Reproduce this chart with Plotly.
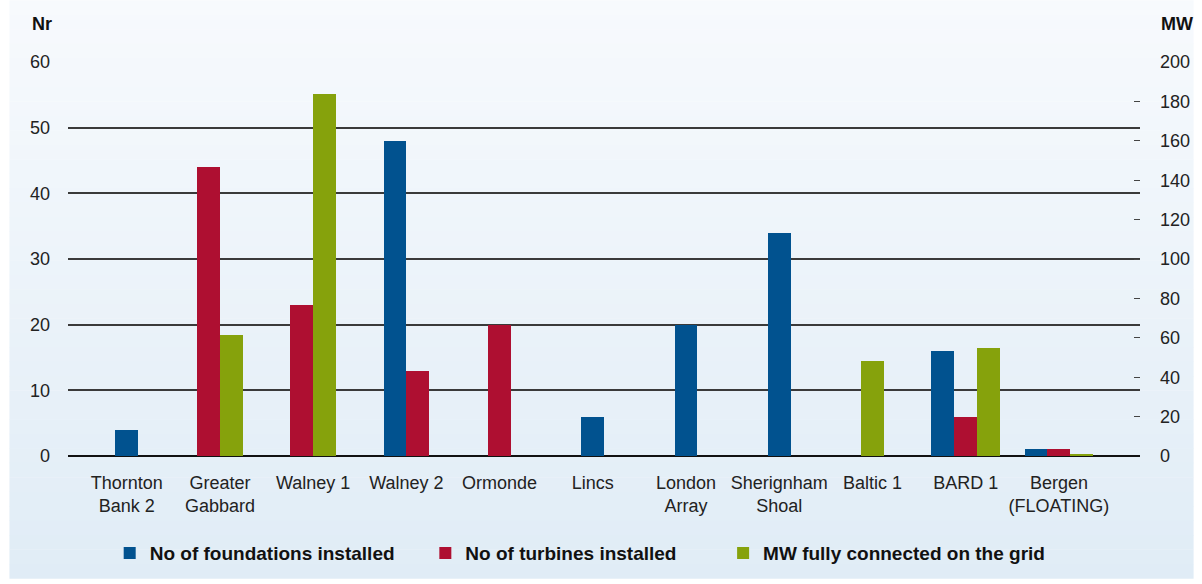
import plotly.graph_objects as go

# ---- data ----
categories = ["Thornton<br>Bank 2", "Greater<br>Gabbard", "Walney 1", "Walney 2", "Ormonde",
              "Lincs", "London<br>Array", "Sherignham<br>Shoal", "Baltic 1", "BARD 1",
              "Bergen<br>(FLOATING)"]
foundations = [4, 0, 0, 48, 0, 6, 20, 34, 0, 16, 1]
turbines = [0, 44, 23, 13, 20, 0, 0, 0, 0, 6, 1]
mw_connected = [0, 61.2, 183.6, 0, 0, 0, 0, 0, 48.3, 55, 1.2]
series_names = ["No of foundations installed", "No of turbines installed",
                "MW fully connected on the grid"]
left_ticks = [0, 10, 20, 30, 40, 50, 60]
right_ticks = [0, 20, 40, 60, 80, 100, 120, 140, 160, 180, 200]

# ---- style ----
colors = ["#01528f", "#ae0f31", "#86a20c"]
W = 0.245
FONT = "Liberation Sans, Arial, sans-serif"
FIG_W, FIG_H = 1202, 584
L, R, T, B = 68, 54, 62, 124
legend_px = [130, 448, 748]   # legend swatch centres (px)
legend_keys = ["legend", "legend2", "legend3"]

series = [foundations, turbines, mw_connected]
n_cat = len(categories)
offsets = [[0.0] * n_cat for _ in series]
for i in range(n_cat):
    present = [k for k in range(len(series)) if series[k][i] > 0]
    n = len(present)
    for j, k in enumerate(present):
        offsets[k][i] = -n * W / 2 + j * W

fig = go.Figure()
for k, vals in enumerate(series):
    fig.add_trace(go.Bar(
        x=categories, y=vals, name=series_names[k],
        marker=dict(color=colors[k], line=dict(width=0)),
        width=W, offset=offsets[k],
        yaxis="y2" if k == 2 else "y",
        legend=legend_keys[k], showlegend=True,
    ))

pw = FIG_W - L - R
ph = FIG_H - T - B

# background gradient panel
shapes = []
top_c = (247, 250, 253)
bot_c = (224, 236, 246)
nb = 40
for b in range(nb):
    py0 = FIG_H * b / nb
    py1 = FIG_H * (b + 1) / nb
    t = (b + 0.5) / nb
    c = tuple(round(top_c[m] + (bot_c[m] - top_c[m]) * t) for m in range(3))
    shapes.append(dict(
        type="rect", xref="paper", yref="paper", layer="below",
        x0=(9 - L) / pw, x1=(FIG_W - L) / pw,
        y0=(FIG_H - B - py1) / ph, y1=(FIG_H - B - py0) / ph + 0.001,
        fillcolor="rgb(%d,%d,%d)" % c, line=dict(width=0),
    ))

legends = {}
for k, key in enumerate(legend_keys):
    legends[key] = dict(
        orientation="h", x=(legend_px[k] - 20 - L) / pw, xanchor="left",
        y=(FIG_H - B - 539) / ph, yanchor="top",
        font=dict(size=19, color="#111", family=FONT, weight="bold"),
        bgcolor="rgba(0,0,0,0)", itemclick=False, itemdoubleclick=False,
        visible=True,
    )

fig.update_layout(
    width=FIG_W, height=FIG_H,
    margin=dict(l=L, r=R, t=T, b=B, pad=0),
    paper_bgcolor="white", plot_bgcolor="rgba(0,0,0,0)",
    barmode="overlay", bargap=0, showlegend=True,
    font=dict(family=FONT, size=17, color="#222"),
    shapes=shapes,
    xaxis=dict(
        type="category", range=[-0.63, 10.87], showgrid=False, zeroline=False,
        showline=False, ticks="", ticklabelstandoff=14,
        tickfont=dict(size=18, color="#222"), fixedrange=True,
    ),
    yaxis=dict(
        range=[0, 60], tickvals=left_ticks, showgrid=True, gridcolor="#3a3a3a",
        gridwidth=1.6, zeroline=True, zerolinecolor="#111", zerolinewidth=1.6,
        showline=False, ticks="", ticklabelstandoff=17,
        tickfont=dict(size=18, color="#222"),
    ),
    yaxis2=dict(
        range=[0, 200], tickvals=right_ticks, overlaying="y", side="right",
        showgrid=False, zeroline=False, showline=False,
        ticks="inside", ticklen=6, tickwidth=1.4, tickcolor="#444",
        ticklabelstandoff=19, tickfont=dict(size=18, color="#222"),
    ),
    annotations=[
        dict(text="<b>Nr</b>", xref="paper", yref="paper",
             x=(42 - L) / pw, y=(FIG_H - B - 24) / ph, showarrow=False,
             xanchor="center", yanchor="middle", font=dict(size=18, color="#111")),
        dict(text="<b>MW</b>", xref="paper", yref="paper",
             x=(1167 - L) / pw, y=(FIG_H - B - 24) / ph, showarrow=False,
             xanchor="left", yanchor="middle", font=dict(size=18, color="#111")),
    ],
    **legends,
)

fig.write_html("out.html", config={"displayModeBar": False},
               post_script="document.body.style.margin='0';document.body.style.overflow='hidden';")
